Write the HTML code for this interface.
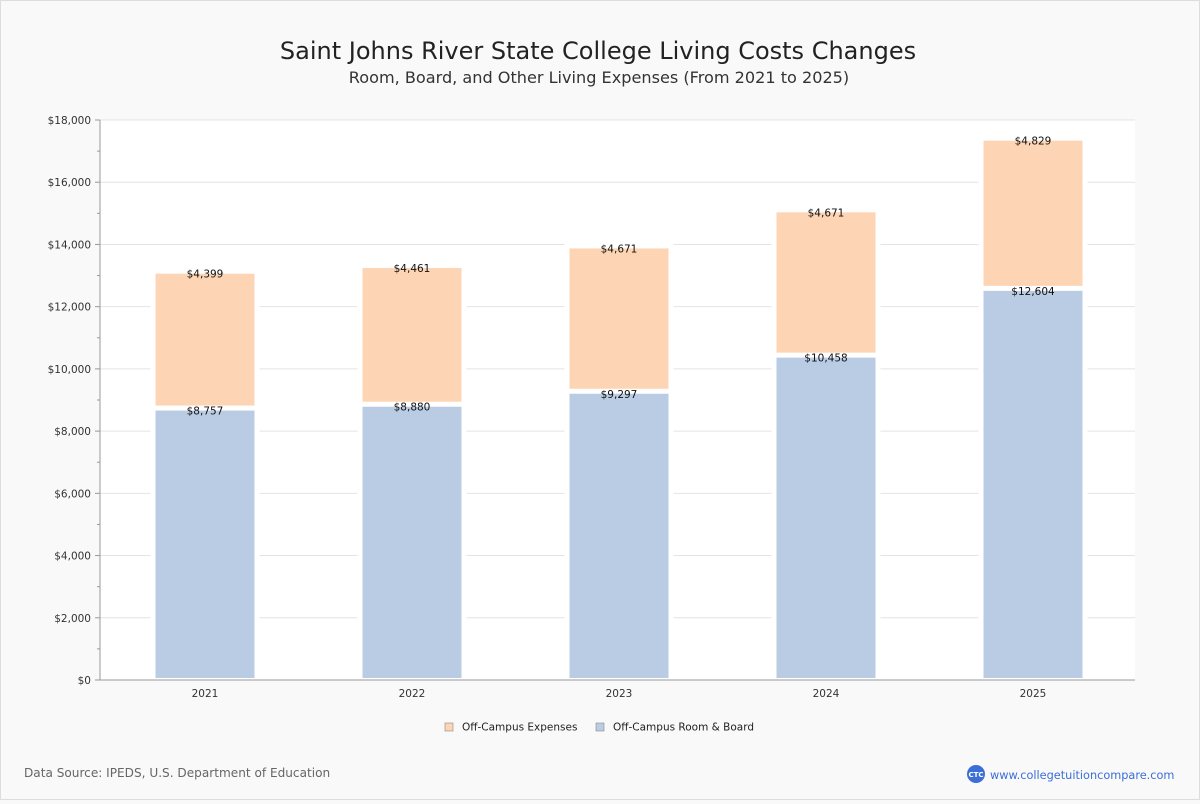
<!DOCTYPE html>
<html><head><meta charset="utf-8"><style>
body{margin:0;background:#f9f9f9;font-family:"Liberation Sans","DejaVu Sans",sans-serif;}
#wrap{position:relative;width:1198px;height:798px;border:1px solid #ddd;background:#f9f9f9;}
</style></head><body>
<div id="wrap">
<svg id="chart" width="1198" height="798" xmlns="http://www.w3.org/2000/svg">
<text x="597" y="58" text-anchor="middle" font-size="24" fill="#222" font-family="DejaVu Sans, sans-serif">Saint Johns River State College Living Costs Changes</text>
<text x="598" y="82" text-anchor="middle" font-size="16.1" fill="#333" font-family="DejaVu Sans, sans-serif">Room, Board, and Other Living Expenses (From 2021 to 2025)</text>
<rect x="99" y="119" width="1035" height="560" fill="#fff"/>
<g id="grid"></g><g id="bars"></g><g id="axes"></g>
<g>
<rect x="444" y="722" width="8" height="8" fill="#fdd5b4" stroke="#888" stroke-width="0.6"/>
<text x="461" y="729.5" font-size="10.5" fill="#222" font-family="DejaVu Sans, sans-serif">Off-Campus Expenses</text>
<rect x="595" y="722" width="8" height="8" fill="#b9cce4" stroke="#888" stroke-width="0.6"/>
<text x="612" y="729.5" font-size="10.5" fill="#222" font-family="DejaVu Sans, sans-serif">Off-Campus Room &amp; Board</text>
</g>
<text x="23" y="776" font-size="12.1" fill="#666" font-family="DejaVu Sans, sans-serif">Data Source: IPEDS, U.S. Department of Education</text>
<circle cx="975" cy="773" r="9" fill="#3b6fd6"/>
<text x="975" y="776" text-anchor="middle" font-size="7" font-weight="bold" fill="#fff" font-family="DejaVu Sans, sans-serif">CTC</text>
<text x="989" y="778" font-size="11.3" fill="#3b6fd6" font-family="DejaVu Sans, sans-serif">www.collegetuitioncompare.com</text>
</svg>
</div>
<script>
const years=["2021","2022","2023","2024","2025"];
const roomBoard=[8757,8880,9297,10458,12604];
const expenses=[4399,4461,4671,4671,4829];
const yTicks=[0,2000,4000,6000,8000,10000,12000,14000,16000,18000];
const NS="http://www.w3.org/2000/svg";
const X0=99,X1=1134,Y0=679,Y1=119,YMAX=18000;
const y=v=>Y0-(v/YMAX)*(Y0-Y1);
const band=(X1-X0)/years.length;
const xc=i=>X0+band*(i+0.5)+1.5;
const fmt=v=>"$"+v.toLocaleString("en-US");
function mk(tag,attrs,parent){const e=document.createElementNS(NS,tag);for(const k in attrs)e.setAttribute(k,attrs[k]);parent.appendChild(e);return e;}
const grid=document.getElementById("grid"),bars=document.getElementById("bars"),axes=document.getElementById("axes");
yTicks.forEach(t=>{
 const l=mk("line",{x1:X0,x2:X1,y1:y(t),y2:y(t),stroke:"#e4e4e4","stroke-width":1},grid);
 
 
 const tx=mk("text",{x:X0-9,y:y(t)+4,"text-anchor":"end","font-size":10.5,fill:"#333","font-family":"DejaVu Sans, sans-serif"},axes);
 tx.textContent=fmt(t);
 
 
 mk("line",{x1:X0-5,x2:X0,y1:y(t),y2:y(t),stroke:"#999"},axes);
});
for(let t=1000;t<YMAX;t+=2000){mk("line",{x1:X0-3,x2:X0,y1:y(t),y2:y(t),stroke:"#999"},axes);}
mk("line",{x1:X0,x2:X0,y1:Y1,y2:Y0,stroke:"#999"},axes);
mk("line",{x1:X0,x2:X1,y1:Y0,y2:Y0,stroke:"#999"},axes);
const bw=99;
years.forEach((yr,i)=>{
 const cx=xc(i);
 const top=roomBoard[i]+expenses[i];
 const bg=mk("rect",{x:cx-bw/2-5,y:y(top)-2,width:bw+10,height:Y0-y(top)+1,fill:"#fff"},bars);
 
 
 const b=mk("rect",{x:cx-bw/2,y:y(roomBoard[i])+3,width:bw,height:Y0-2-(y(roomBoard[i])+3),fill:"#b9cce4"},bars);
 
 
 const o=mk("rect",{x:cx-bw/2,y:y(top)+3,width:bw,height:(y(roomBoard[i])-2)-(y(top)+3),fill:"#fdd5b4"},bars);
 
 
 const l1=mk("text",{x:cx,y:y(roomBoard[i])+7,"text-anchor":"middle","font-size":10.5,fill:"#111","font-family":"DejaVu Sans, sans-serif"},bars);
 l1.textContent=fmt(roomBoard[i]);
 
 
 const l2=mk("text",{x:cx,y:y(top)+7,"text-anchor":"middle","font-size":10.5,fill:"#111","font-family":"DejaVu Sans, sans-serif"},bars);
 l2.textContent=fmt(expenses[i]);
 
 
 const xl=mk("text",{x:cx,y:Y0+17,"text-anchor":"middle","font-size":10.5,fill:"#333","font-family":"DejaVu Sans, sans-serif"},axes);
 xl.textContent=yr;
 
 
});
</script>
</body></html>
